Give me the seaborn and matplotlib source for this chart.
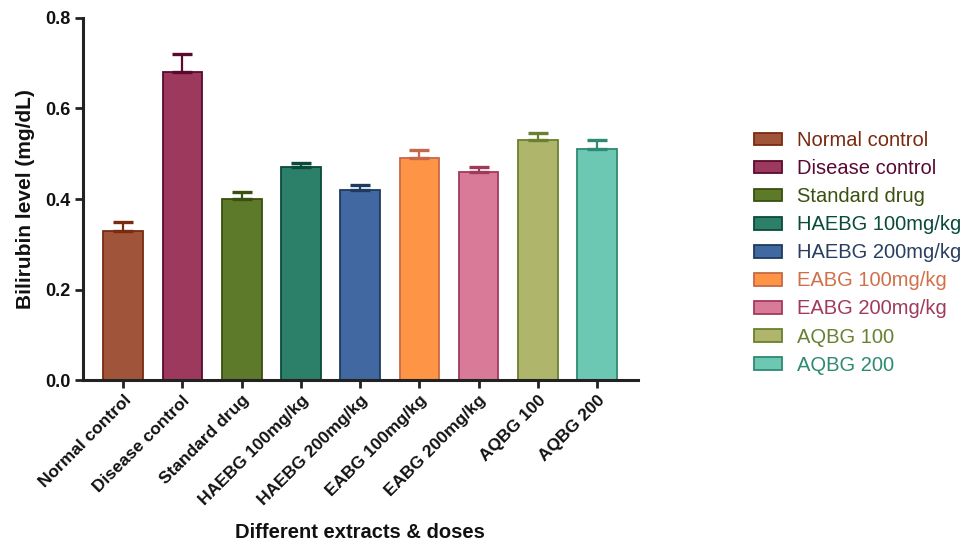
import numpy as np
import pandas as pd
import matplotlib
matplotlib.use("Agg")
import matplotlib.pyplot as plt
from matplotlib.patches import Patch
import seaborn as sns

sns.set_theme(style="white")
plt.rcParams["font.family"] = ["Liberation Sans", "DejaVu Sans"]

# ── Data ────────────────────────────────────────────────────────────────────
groups = ["Normal control", "Disease control", "Standard drug", "HAEBG 100mg/kg",
          "HAEBG 200mg/kg", "EABG 100mg/kg", "EABG 200mg/kg", "AQBG 100", "AQBG 200"]
means = [0.33, 0.68, 0.40, 0.47, 0.42, 0.49, 0.46, 0.53, 0.51]
sems = [0.02, 0.04, 0.015, 0.01, 0.012, 0.018, 0.01, 0.016, 0.02]

fills = ["#A0553B", "#9E395E", "#5D792A", "#2C7F69", "#4168A0",
         "#FD9446", "#D97B98", "#AFB66C", "#6CC8B2"]
edges = ["#7A2A10", "#5A0A30", "#3A5010", "#0A4A3A", "#1E3A60",
         "#C8684A", "#A03A5A", "#6A8030", "#2E8A70"]
text_cols = ["#7A2A10", "#5A0A30", "#3A5010", "#0A4A3A", "#2A3F60",
             "#D0704A", "#A03A5A", "#6A8030", "#2E8A70"]

df = pd.DataFrame({"group": groups, "mean": means, "sem": sems})

fig = plt.figure(figsize=(9.65, 5.43), dpi=100)
ax = fig.add_axes([0.086, 0.300, 0.575, 0.667])

sns.barplot(data=df, x="group", y="mean", hue="group", palette=fills,
            saturation=1, width=0.67, legend=False, ax=ax, linewidth=1.3)
for bar, ec in zip(ax.patches, edges):
    bar.set_edgecolor(ec)

# upward-only error bars
for i, (m, s, ec) in enumerate(zip(means, sems, edges)):
    ax.errorbar(i, m, yerr=[[0], [s]], fmt="none", ecolor=ec,
                elinewidth=1.6, capsize=7.5, capthick=2.4, zorder=3)

ax.set_ylim(0, 0.8)
ax.set_xlim(-0.68, 8.69)
ax.set_yticks([0.0, 0.2, 0.4, 0.6, 0.8])
ax.set_yticklabels(["0.0", "0.2", "0.4", "0.6", "0.8"])
ax.set_xticks(range(len(groups)))
ax.set_xticklabels(groups, rotation=45, ha="right", rotation_mode="anchor")

for lab in ax.get_xticklabels():
    lab.set_fontweight("bold")
    lab.set_fontsize(12.5)
    lab.set_color("#111111")
for lab in ax.get_yticklabels():
    lab.set_fontweight("bold")
    lab.set_fontsize(13)
    lab.set_color("#111111")

ax.tick_params(axis="both", direction="out", length=6, width=2, color="#222222",
               bottom=True, left=True, pad=3)

for side in ["top", "right"]:
    ax.spines[side].set_visible(False)
for side in ["left", "bottom"]:
    ax.spines[side].set_linewidth(2.2)
    ax.spines[side].set_color("#222222")

ax.set_ylabel("Bilirubin level (mg/dL)", fontsize=15, fontweight="bold",
              color="#111111", labelpad=7)
ax.set_xlabel("Different extracts & doses", fontsize=14.5, fontweight="bold",
              color="#111111", labelpad=11)

handles = [Patch(facecolor=f, edgecolor=e, linewidth=1.3) for f, e in zip(fills, edges)]
leg = fig.legend(handles, groups, loc="upper left", bbox_to_anchor=(0.763, 0.792),
                 frameon=False, fontsize=14.5, handlelength=1.35, handleheight=0.6,
                 handletextpad=0.75, labelspacing=0.45)
for txt, c in zip(leg.get_texts(), text_cols):
    txt.set_color(c)

fig.savefig("out.png", dpi=100)
